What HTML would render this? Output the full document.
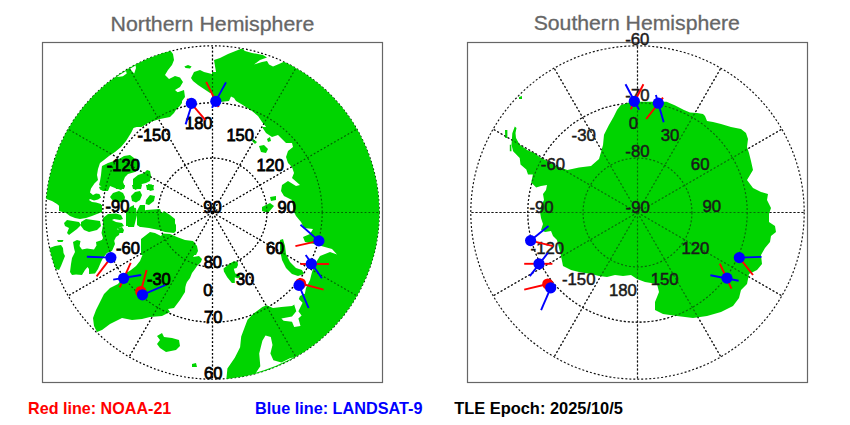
<!DOCTYPE html>
<html><head><meta charset="utf-8"><style>
html,body{margin:0;padding:0;background:#fff;width:850px;height:425px;overflow:hidden}
svg{display:block}
text{font-family:"Liberation Sans",sans-serif}
</style></head><body>
<svg width="850" height="425" viewBox="0 0 850 425">
<defs>
<clipPath id="cn"><circle cx="212.5" cy="212.5" r="166.9"/></clipPath>
<clipPath id="cnw"><circle cx="212.5" cy="212.5" r="166.0"/></clipPath>
<clipPath id="cs"><circle cx="637.5" cy="212.5" r="166.9"/></clipPath>
</defs>
<text x="110.59" y="30.9" font-size="21" fill="#666" stroke="#666" stroke-width="0.3" textLength="203.69" lengthAdjust="spacingAndGlyphs">Northern Hemisphere</text>
<text x="533.69" y="29.8" font-size="21" fill="#666" stroke="#666" stroke-width="0.3" textLength="206.19" lengthAdjust="spacingAndGlyphs">Southern Hemisphere</text>
<circle cx="212.5" cy="212.5" r="166.7" stroke="#000" stroke-width="1.2" stroke-dasharray="1.8 2.1" fill="none"/>
<circle cx="212.5" cy="212.5" r="109.70" stroke="#000" stroke-width="1.2" stroke-dasharray="1.8 2.1" fill="none"/>
<circle cx="212.5" cy="212.5" r="54.43" stroke="#000" stroke-width="1.2" stroke-dasharray="1.8 2.1" fill="none"/>
<line x1="212.50" y1="212.50" x2="212.50" y2="379.20" stroke="#000" stroke-width="1.2" stroke-dasharray="1.8 2.1" fill="none"/>
<line x1="212.50" y1="212.50" x2="295.85" y2="356.87" stroke="#000" stroke-width="1.2" stroke-dasharray="1.8 2.1" fill="none"/>
<line x1="212.50" y1="212.50" x2="356.87" y2="295.85" stroke="#000" stroke-width="1.2" stroke-dasharray="1.8 2.1" fill="none"/>
<line x1="212.50" y1="212.50" x2="379.20" y2="212.50" stroke="#000" stroke-width="1.2" stroke-dasharray="1.8 2.1" fill="none"/>
<line x1="212.50" y1="212.50" x2="356.87" y2="129.15" stroke="#000" stroke-width="1.2" stroke-dasharray="1.8 2.1" fill="none"/>
<line x1="212.50" y1="212.50" x2="295.85" y2="68.13" stroke="#000" stroke-width="1.2" stroke-dasharray="1.8 2.1" fill="none"/>
<line x1="212.50" y1="212.50" x2="212.50" y2="45.80" stroke="#000" stroke-width="1.2" stroke-dasharray="1.8 2.1" fill="none"/>
<line x1="212.50" y1="212.50" x2="129.15" y2="68.13" stroke="#000" stroke-width="1.2" stroke-dasharray="1.8 2.1" fill="none"/>
<line x1="212.50" y1="212.50" x2="68.13" y2="129.15" stroke="#000" stroke-width="1.2" stroke-dasharray="1.8 2.1" fill="none"/>
<line x1="212.50" y1="212.50" x2="45.80" y2="212.50" stroke="#000" stroke-width="1.2" stroke-dasharray="1.8 2.1" fill="none"/>
<line x1="212.50" y1="212.50" x2="68.13" y2="295.85" stroke="#000" stroke-width="1.2" stroke-dasharray="1.8 2.1" fill="none"/>
<line x1="212.50" y1="212.50" x2="129.15" y2="356.87" stroke="#000" stroke-width="1.2" stroke-dasharray="1.8 2.1" fill="none"/>
<g clip-path="url(#cn)" fill="#00d400">
<clipPath id="k0"><rect x="42" y="42" width="170" height="85"/></clipPath>
<clipPath id="k1"><rect x="212" y="42" width="170" height="85"/></clipPath>
<clipPath id="k2"><rect x="42" y="127" width="170" height="85"/></clipPath>
<clipPath id="k10"><rect x="212" y="127" width="170" height="85"/></clipPath>
<clipPath id="k11"><rect x="212" y="212" width="170" height="85"/></clipPath>
<g clip-path="url(#k0)"><polygon points="42.0,42.0 168.0,42.0 170.0,50.0 173.0,54.0 174.0,60.0 172.0,65.0 168.0,70.0 165.0,75.0 169.0,79.0 175.0,76.0 180.0,77.6 183.0,82.0 180.0,87.0 175.0,90.0 179.0,93.6 182.0,98.0 182.0,103.0 179.0,107.0 173.0,111.0 166.0,113.0 160.0,117.0 154.0,120.0 148.0,123.0 140.0,128.0 42.0,128.0"/><polygon points="184.4,66.4 188.0,65.0 191.6,66.4 190.0,68.4 185.6,68.0"/><polygon points="194.0,72.0 200.0,70.0 204.0,72.0 212.0,74.0 214.0,74.0 214.0,94.0 210.0,93.0 204.0,89.0 198.0,85.0 193.0,81.0 191.0,78.0"/></g>
<g clip-path="url(#k1)"><polygon points="211.0,72.0 216.0,72.0 214.0,60.0 220.0,58.0 228.0,54.0 238.0,50.0 242.0,48.6 245.0,51.0 252.0,53.0 263.0,55.0 267.0,57.6 260.0,60.0 254.0,64.4 262.0,62.0 267.0,61.0 269.0,64.4 273.0,66.4 279.0,64.0 284.4,61.6 382.0,40.0 384.0,128.0 267.0,128.0 262.0,122.0 258.0,116.0 252.0,111.0 242.0,104.4 236.0,101.0 234.0,98.0 231.0,96.4 229.0,101.0 220.0,102.0 211.0,103.0"/></g>
<g clip-path="url(#k2)"><polygon points="40.0,125.0 135.0,125.0 131.0,133.0 126.0,141.0 121.0,147.0 115.0,152.0 109.0,156.0 104.0,160.0 100.0,163.0 98.0,169.0 97.0,175.0 98.0,180.0 94.4,183.4 91.0,188.4 90.0,192.4 93.0,195.0 96.0,193.4 99.4,194.0 101.0,197.4 98.0,199.4 94.0,200.4 90.0,199.0 89.0,200.0 92.0,202.0 96.0,202.4 101.0,204.0 102.0,208.0 99.0,210.0 96.4,213.0 66.0,213.0 62.4,210.0 60.4,207.0 57.0,204.0 52.0,201.0 46.4,199.0 40.0,199.0"/></g>
<polygon points="102.0,166.0 108.0,163.0 114.0,161.0 119.0,159.0 124.0,156.0 130.0,155.0 134.0,158.0 138.0,162.0 139.0,169.0 135.0,172.0 128.0,174.0 125.0,177.0 123.0,182.0 125.0,187.0 121.0,190.0 115.0,188.0 110.0,186.0 104.0,188.0 99.0,185.0 100.0,181.0 101.0,175.0 101.5,170.0"/><polygon points="133.0,179.0 138.0,175.0 144.0,173.0 147.0,170.0 150.0,171.0 151.0,176.0 150.0,181.0 146.0,183.0 142.0,184.0 140.0,188.0 135.0,190.0 133.0,186.0"/><polygon points="148.0,184.0 152.0,184.5 154.0,190.0 150.0,191.0 147.5,188.0"/>
<polygon points="110.0,197.0 113.0,193.0 119.0,191.0 123.0,193.0 125.0,197.0 124.0,202.0 118.0,202.5 113.0,201.0"/><polygon points="99.0,187.0 105.0,185.0 110.0,186.0 108.0,191.0 103.0,191.0 100.0,189.5"/><polygon points="115.0,185.0 125.0,185.0 124.0,189.0 116.0,189.0"/><polygon points="131.0,196.0 135.0,192.0 140.0,191.0 142.0,195.0 140.0,200.0 136.0,202.5 132.0,201.0"/><polygon points="132.0,185.0 142.0,185.0 141.0,189.0 133.0,189.0"/><polygon points="146.0,200.0 150.0,195.0 155.0,196.0 154.0,201.0 149.0,205.0 145.5,204.0"/><polygon points="127.0,213.0 130.0,207.0 136.0,208.0 137.0,215.0 134.0,227.0 128.0,227.0"/><polygon points="138.0,214.0 146.0,210.0 160.0,209.0 162.0,214.0 159.0,227.0 140.0,227.0"/><polygon points="162.0,213.0 164.0,211.0 170.0,215.0 175.0,219.0 175.0,227.0 162.0,227.0"/><polygon points="146.0,185.0 154.0,185.0 153.0,190.0 147.0,190.0"/>
<polygon points="59.0,205.0 102.0,205.0 102.0,212.0 97.0,214.0 92.0,216.0 86.0,218.0 80.0,219.0 75.0,218.0 70.0,216.0 66.0,213.0 59.0,211.0"/><polygon points="64.0,223.0 67.0,220.0 73.0,221.0 79.0,222.0 81.0,225.0 77.0,229.0 73.0,232.0 69.0,235.0 67.0,233.0 69.0,228.0 65.0,226.0"/><polygon points="81.0,222.0 86.0,219.0 93.0,220.0 100.0,221.0 101.0,226.0 97.0,230.0 89.0,232.0 84.0,230.0 81.0,226.0"/><polygon points="103.0,218.0 108.0,214.0 116.0,213.5 121.0,215.0 123.0,219.0 120.0,220.0 114.0,219.0 112.0,220.0 116.0,222.0 122.0,223.0 124.0,226.0 121.0,227.0 117.0,229.0 120.0,231.0 119.0,235.0 116.0,237.0 114.0,241.0 112.0,247.0 98.0,247.0 103.0,238.0 101.5,233.0 103.0,225.0"/><polygon points="118.0,228.0 122.0,227.0 124.0,230.0 123.0,233.0 119.0,233.0"/><polygon points="126.0,213.0 130.0,207.0 134.0,205.0 134.0,227.0 130.0,227.0 128.0,221.0"/><polygon points="137.0,211.0 140.0,205.0 145.0,205.0 145.0,225.0 140.0,227.0 137.0,225.0"/>
<polygon points="44.0,246.0 49.5,248.0 55.0,246.0 61.0,245.0 63.0,248.0 63.5,253.0 65.0,256.0 63.0,261.0 61.0,266.0 59.0,270.0 56.0,269.0 44.0,270.0"/><polygon points="73.0,242.0 77.0,240.0 80.5,241.0 79.5,246.0 82.0,249.5 87.0,248.5 94.0,249.5 96.5,245.5 96.0,242.0 102.0,240.0 114.0,240.0 115.0,244.0 112.0,251.0 107.0,253.0 103.0,258.0 101.0,262.0 98.0,269.0 95.0,273.5 89.0,274.0 89.0,269.0 87.5,267.0 85.0,270.0 82.0,275.0 76.0,274.5 72.0,275.0 70.0,272.0 71.0,264.0 72.0,258.0 75.0,252.0 74.0,248.0"/><polygon points="57.0,240.0 63.5,240.0 62.5,242.0 58.0,242.0"/>
<polygon points="126.0,212.0 134.0,212.0 133.0,218.0 132.0,226.0 126.0,226.0"/><polygon points="137.0,214.0 142.0,212.0 160.0,212.0 167.0,215.0 173.0,220.0 176.0,225.0 176.0,231.0 174.0,233.0 165.0,232.0 159.0,230.0 149.0,228.0 141.0,227.0 137.0,224.0 137.0,218.0"/><polygon points="141.0,239.0 150.0,232.0 155.0,233.0 161.0,236.0 163.0,233.5 170.0,234.0 177.0,237.0 185.0,240.0 193.0,241.0 197.0,246.0 198.0,251.0 196.0,255.0 141.0,255.0"/>
<polygon points="145.0,250.0 197.0,250.0 195.0,254.0 193.0,257.0 199.0,256.0 202.0,259.0 201.0,262.0 197.0,266.0 195.0,269.0 192.0,273.0 190.0,278.0 187.0,282.0 185.0,287.0 184.0,293.0 126.0,293.0 126.0,273.0 131.0,270.0 136.0,266.0 140.0,261.0 142.0,256.0"/>
<polygon points="127.0,272.0 118.0,284.0 110.0,288.0 104.0,294.0 100.0,302.0 96.0,310.0 93.0,318.0 94.0,326.0 97.0,332.0 102.0,330.0 110.0,324.0 122.0,318.0 132.0,320.0 142.0,319.0 150.0,317.0 162.0,316.0 170.0,312.0 168.0,309.0 174.0,308.0 180.0,300.0 185.0,292.0 186.0,278.0 162.0,272.0"/><polygon points="157.0,336.0 162.0,333.0 164.0,337.0 172.0,338.0 179.0,340.0 180.0,346.0 176.0,350.0 166.0,352.0 160.0,348.0 157.0,344.0 160.0,340.0"/><polygon points="192.0,364.0 196.0,363.0 197.0,367.0 192.0,367.0"/>
<g clip-path="url(#k10)"><polygon points="260.0,125.0 262.0,127.0 266.0,133.0 272.0,137.0 278.0,135.0 282.0,139.0 286.0,143.0 292.0,143.0 293.0,147.0 288.0,151.0 286.0,157.0 288.0,163.0 292.0,167.0 294.0,173.0 292.0,178.0 300.0,185.0 296.0,186.0 288.0,181.0 282.0,185.0 281.0,191.0 284.0,196.0 292.0,200.0 294.0,213.0 384.0,213.0 384.0,125.0"/><polygon points="253.0,139.0 257.0,142.0 255.0,144.0 252.0,141.0"/><polygon points="259.0,146.0 264.0,145.0 268.0,149.0 266.0,153.0 261.0,152.0"/><polygon points="267.0,139.0 270.0,137.0 271.0,141.0 268.0,142.0"/><polygon points="270.0,197.0 276.0,196.0 276.0,200.0 271.0,201.0"/><polygon points="262.0,207.0 270.0,203.0 274.0,206.0 268.0,213.0 262.0,211.0"/></g>
<g clip-path="url(#k11)"><polygon points="293.0,210.0 384.0,210.0 384.0,298.0 304.0,298.0 306.0,288.0 310.0,280.0 312.0,272.0 315.0,264.0 320.0,256.0 330.0,252.0 337.0,254.4 332.0,249.0 314.0,244.0 305.0,242.0 303.0,237.0 310.0,234.0 313.0,229.0 304.0,228.0 301.0,222.0 296.0,216.0"/><polygon points="280.0,240.0 283.0,239.0 285.0,246.0 286.0,254.0 290.0,262.0 296.0,268.0 302.0,270.0 304.0,274.0 298.0,276.0 292.0,274.0 286.0,268.0 282.0,260.0 280.0,250.0"/></g>
<polygon points="226.4,390.0 226.4,379.0 227.4,368.4 234.8,357.8 240.1,347.2 241.2,336.6 244.4,328.1 247.5,319.7 253.9,313.3 262.4,307.0 266.6,305.3 273.0,308.0 281.4,307.0 292.0,305.9 297.3,302.7 300.0,296.0 304.0,294.0 390.0,294.0 390.0,390.0"/>
<polygon points="223.5,268.4 229.1,264.1 233.8,261.3 237.6,261.8 238.0,265.0 236.6,267.9 233.8,268.8 235.2,273.5 239.5,274.5 240.4,277.3 237.6,278.2 234.8,277.3 234.8,282.9 231.9,282.9 227.2,277.3 223.9,271.6"/>
<polygon points="184.0,90.0 185.0,97.0 179.0,105.0 174.0,113.0 170.0,117.0 160.0,119.0 150.0,122.0 140.0,126.0 130.0,129.0 125.0,120.0 150.0,105.0 170.0,95.0"/>
<g clip-path="url(#cnw)"><polygon fill="#fff" points="265.5,335.5 270.8,337.0 272.5,345.1 270.4,353.6 273.4,360.3 281.4,362.5 289.9,358.2 296.3,356.7 304.7,353.6 309.0,379.0 251.8,379.0 260.3,366.3 259.2,353.6 262.4,340.8"/><polygon fill="#fff" points="296.3,296.4 302.6,302.7 298.4,311.2 301.6,315.4 298.4,318.6 300.5,326.0 294.2,327.1 292.0,321.8 283.6,320.7 281.4,318.6 292.0,316.5 296.3,311.2 294.2,304.8"/><polygon fill="#fff" points="110.0,70.0 115.4,77.3 122.9,76.3 126.7,73.5 125.7,69.8 129.5,67.9 132.3,71.6 134.2,73.5 136.0,67.9 135.1,62.0 125.0,60.0"/></g>

</g>
<circle cx="637.5" cy="212.5" r="166.7" stroke="#111" stroke-width="1.15" stroke-dasharray="2 2" fill="none"/>
<circle cx="637.5" cy="212.5" r="109.70" stroke="#111" stroke-width="1.15" stroke-dasharray="2 2" fill="none"/>
<circle cx="637.5" cy="212.5" r="54.43" stroke="#111" stroke-width="1.15" stroke-dasharray="2 2" fill="none"/>
<line x1="637.50" y1="212.50" x2="637.50" y2="45.80" stroke="#111" stroke-width="1.15" stroke-dasharray="2 2" fill="none"/>
<line x1="637.50" y1="212.50" x2="720.85" y2="68.13" stroke="#111" stroke-width="1.15" stroke-dasharray="2 2" fill="none"/>
<line x1="637.50" y1="212.50" x2="781.87" y2="129.15" stroke="#111" stroke-width="1.15" stroke-dasharray="2 2" fill="none"/>
<line x1="637.50" y1="212.50" x2="804.20" y2="212.50" stroke="#111" stroke-width="1.15" stroke-dasharray="2 2" fill="none"/>
<line x1="637.50" y1="212.50" x2="781.87" y2="295.85" stroke="#111" stroke-width="1.15" stroke-dasharray="2 2" fill="none"/>
<line x1="637.50" y1="212.50" x2="720.85" y2="356.87" stroke="#111" stroke-width="1.15" stroke-dasharray="2 2" fill="none"/>
<line x1="637.50" y1="212.50" x2="637.50" y2="379.20" stroke="#111" stroke-width="1.15" stroke-dasharray="2 2" fill="none"/>
<line x1="637.50" y1="212.50" x2="554.15" y2="356.87" stroke="#111" stroke-width="1.15" stroke-dasharray="2 2" fill="none"/>
<line x1="637.50" y1="212.50" x2="493.13" y2="295.85" stroke="#111" stroke-width="1.15" stroke-dasharray="2 2" fill="none"/>
<line x1="637.50" y1="212.50" x2="470.80" y2="212.50" stroke="#111" stroke-width="1.15" stroke-dasharray="2 2" fill="none"/>
<line x1="637.50" y1="212.50" x2="493.13" y2="129.15" stroke="#111" stroke-width="1.15" stroke-dasharray="2 2" fill="none"/>
<line x1="637.50" y1="212.50" x2="554.15" y2="68.13" stroke="#111" stroke-width="1.15" stroke-dasharray="2 2" fill="none"/>
<g clip-path="url(#cs)" fill="#00d400">

<polygon points="514.8,126.5 516.5,128.0 515.5,133.0 516.0,138.1 519.7,144.7 528.0,150.5 534.5,153.0 539.5,157.0 544.4,159.5 555.9,166.0 567.4,170.0 579.0,167.6 591.0,166.0 599.0,159.0 603.0,145.0 604.0,134.7 608.8,125.3 613.5,117.0 617.0,110.0 620.6,105.3 628.8,102.4 637.0,101.8 646.5,101.8 655.9,101.8 666.5,101.8 674.7,105.3 684.0,110.0 690.0,112.4 697.0,113.0 703.0,114.0 705.0,116.0 707.0,121.0 713.0,122.0 721.0,124.0 731.0,127.0 741.0,129.0 746.0,133.0 748.0,139.0 747.0,147.0 749.0,153.0 751.0,161.0 753.0,170.0 747.0,180.0 753.0,188.0 761.0,192.0 768.0,194.0 767.0,200.0 771.0,208.0 769.0,214.0 769.0,222.0 775.0,226.0 776.0,232.0 771.0,236.0 770.0,242.0 765.0,248.0 761.0,255.0 762.0,264.0 757.0,270.0 749.0,274.0 747.0,284.0 741.0,290.0 739.0,298.0 733.0,306.0 721.0,312.0 707.0,316.0 693.0,318.0 677.0,316.0 663.0,314.0 655.0,310.0 655.0,302.0 659.0,292.0 657.0,284.0 645.0,282.0 637.0,279.0 631.0,275.0 623.0,276.0 615.0,275.0 607.0,277.0 599.0,276.0 591.0,274.0 579.0,272.0 571.0,270.0 563.0,266.0 561.0,256.0 559.0,248.0 557.0,240.0 553.0,236.0 551.0,231.0 545.0,232.0 541.0,230.0 543.0,224.0 541.0,218.0 540.0,212.0 541.0,206.0 544.0,200.0 543.0,194.0 546.0,190.0 547.0,185.0 541.0,186.0 536.2,187.5 531.2,182.6 532.9,174.4 528.0,174.4 526.3,169.4 520.5,164.5 519.7,157.9 513.1,151.3 511.5,144.7 512.3,133.2"/><polygon points="505.0,129.9 507.4,129.9 507.4,138.1 505.2,138.1"/><polygon points="509.8,144.7 511.3,144.7 511.5,151.3 509.8,151.3"/><polygon points="519.0,97.0 522.0,96.0 522.0,99.0 519.0,99.0"/>
</g>
<g opacity="0.55">
<circle cx="212.5" cy="212.5" r="109.70" stroke="#000" stroke-width="1.2" stroke-dasharray="1.8 2.1" fill="none"/>
<circle cx="212.5" cy="212.5" r="54.43" stroke="#000" stroke-width="1.2" stroke-dasharray="1.8 2.1" fill="none"/>
<line x1="212.50" y1="212.50" x2="212.50" y2="379.20" stroke="#000" stroke-width="1.2" stroke-dasharray="1.8 2.1" fill="none"/>
<line x1="212.50" y1="212.50" x2="295.85" y2="356.87" stroke="#000" stroke-width="1.2" stroke-dasharray="1.8 2.1" fill="none"/>
<line x1="212.50" y1="212.50" x2="356.87" y2="295.85" stroke="#000" stroke-width="1.2" stroke-dasharray="1.8 2.1" fill="none"/>
<line x1="212.50" y1="212.50" x2="379.20" y2="212.50" stroke="#000" stroke-width="1.2" stroke-dasharray="1.8 2.1" fill="none"/>
<line x1="212.50" y1="212.50" x2="356.87" y2="129.15" stroke="#000" stroke-width="1.2" stroke-dasharray="1.8 2.1" fill="none"/>
<line x1="212.50" y1="212.50" x2="295.85" y2="68.13" stroke="#000" stroke-width="1.2" stroke-dasharray="1.8 2.1" fill="none"/>
<line x1="212.50" y1="212.50" x2="212.50" y2="45.80" stroke="#000" stroke-width="1.2" stroke-dasharray="1.8 2.1" fill="none"/>
<line x1="212.50" y1="212.50" x2="129.15" y2="68.13" stroke="#000" stroke-width="1.2" stroke-dasharray="1.8 2.1" fill="none"/>
<line x1="212.50" y1="212.50" x2="68.13" y2="129.15" stroke="#000" stroke-width="1.2" stroke-dasharray="1.8 2.1" fill="none"/>
<line x1="212.50" y1="212.50" x2="45.80" y2="212.50" stroke="#000" stroke-width="1.2" stroke-dasharray="1.8 2.1" fill="none"/>
<line x1="212.50" y1="212.50" x2="68.13" y2="295.85" stroke="#000" stroke-width="1.2" stroke-dasharray="1.8 2.1" fill="none"/>
<line x1="212.50" y1="212.50" x2="129.15" y2="356.87" stroke="#000" stroke-width="1.2" stroke-dasharray="1.8 2.1" fill="none"/>
<circle cx="637.5" cy="212.5" r="109.70" stroke="#111" stroke-width="1.15" stroke-dasharray="2 2" fill="none"/>
<circle cx="637.5" cy="212.5" r="54.43" stroke="#111" stroke-width="1.15" stroke-dasharray="2 2" fill="none"/>
<line x1="637.50" y1="212.50" x2="637.50" y2="45.80" stroke="#111" stroke-width="1.15" stroke-dasharray="2 2" fill="none"/>
<line x1="637.50" y1="212.50" x2="720.85" y2="68.13" stroke="#111" stroke-width="1.15" stroke-dasharray="2 2" fill="none"/>
<line x1="637.50" y1="212.50" x2="781.87" y2="129.15" stroke="#111" stroke-width="1.15" stroke-dasharray="2 2" fill="none"/>
<line x1="637.50" y1="212.50" x2="804.20" y2="212.50" stroke="#111" stroke-width="1.15" stroke-dasharray="2 2" fill="none"/>
<line x1="637.50" y1="212.50" x2="781.87" y2="295.85" stroke="#111" stroke-width="1.15" stroke-dasharray="2 2" fill="none"/>
<line x1="637.50" y1="212.50" x2="720.85" y2="356.87" stroke="#111" stroke-width="1.15" stroke-dasharray="2 2" fill="none"/>
<line x1="637.50" y1="212.50" x2="637.50" y2="379.20" stroke="#111" stroke-width="1.15" stroke-dasharray="2 2" fill="none"/>
<line x1="637.50" y1="212.50" x2="554.15" y2="356.87" stroke="#111" stroke-width="1.15" stroke-dasharray="2 2" fill="none"/>
<line x1="637.50" y1="212.50" x2="493.13" y2="295.85" stroke="#111" stroke-width="1.15" stroke-dasharray="2 2" fill="none"/>
<line x1="637.50" y1="212.50" x2="470.80" y2="212.50" stroke="#111" stroke-width="1.15" stroke-dasharray="2 2" fill="none"/>
<line x1="637.50" y1="212.50" x2="493.13" y2="129.15" stroke="#111" stroke-width="1.15" stroke-dasharray="2 2" fill="none"/>
<line x1="637.50" y1="212.50" x2="554.15" y2="68.13" stroke="#111" stroke-width="1.15" stroke-dasharray="2 2" fill="none"/>
</g>
<rect x="42.5" y="42.5" width="340" height="340" fill="none" stroke="#666" stroke-width="1.2"/>
<rect x="467.5" y="42.5" width="340" height="340" fill="none" stroke="#666" stroke-width="1.2"/>
<text x="185.0" y="129.3" font-size="16.5" fill="#000" stroke="#000" stroke-width="0.8">180</text>
<text x="137.45" y="140.55" font-size="16.5" fill="#000" stroke="#000" stroke-width="0.8">-150</text>
<text x="226.4" y="140.55" font-size="16.5" fill="#000" stroke="#000" stroke-width="0.8">150</text>
<text x="106.8" y="170.85" font-size="16.5" fill="#000" stroke="#000" stroke-width="0.8">-120</text>
<text x="256.45" y="170.85" font-size="16.5" fill="#000" stroke="#000" stroke-width="0.8">120</text>
<text x="105.5" y="212.3" font-size="16.5" fill="#000" stroke="#000" stroke-width="0.8">-90</text>
<text x="277.6" y="213.3" font-size="16.5" fill="#000" stroke="#000" stroke-width="0.8">90</text>
<text x="116.05" y="254.1" font-size="16.5" fill="#000" stroke="#000" stroke-width="0.8">-60</text>
<text x="265.95" y="254.1" font-size="16.5" fill="#000" stroke="#000" stroke-width="0.8">60</text>
<text x="146.9" y="285.0" font-size="16.5" fill="#000" stroke="#000" stroke-width="0.8">-30</text>
<text x="235.95" y="285.0" font-size="16.5" fill="#000" stroke="#000" stroke-width="0.8">30</text>
<text x="203.3" y="296.4" font-size="16.5" fill="#000" stroke="#000" stroke-width="0.8">0</text>
<text x="203.3" y="213.3" font-size="16.5" fill="#000" stroke="#000" stroke-width="0.8">90</text>
<text x="203.65" y="268.25" font-size="16.5" fill="#000" stroke="#000" stroke-width="0.8">80</text>
<text x="204.0" y="323.35" font-size="16.5" fill="#000" stroke="#000" stroke-width="0.8">70</text>
<text x="204.05" y="379.0" font-size="16.5" fill="#000" stroke="#000" stroke-width="0.8">60</text>
<text x="628.8" y="129.2" font-size="16.8" fill="#1a1a1a" stroke="#1a1a1a" stroke-width="0.5">0</text>
<text x="660.65" y="140.6" font-size="16.8" fill="#1a1a1a" stroke="#1a1a1a" stroke-width="0.5">30</text>
<text x="571.6" y="140.6" font-size="16.8" fill="#1a1a1a" stroke="#1a1a1a" stroke-width="0.5">-30</text>
<text x="690.85" y="170.25" font-size="16.8" fill="#1a1a1a" stroke="#1a1a1a" stroke-width="0.5">60</text>
<text x="540.8" y="170.25" font-size="16.8" fill="#1a1a1a" stroke="#1a1a1a" stroke-width="0.5">-60</text>
<text x="702.4" y="212.4" font-size="16.8" fill="#1a1a1a" stroke="#1a1a1a" stroke-width="0.5">90</text>
<text x="529.4" y="212.65" font-size="16.8" fill="#1a1a1a" stroke="#1a1a1a" stroke-width="0.5">-90</text>
<text x="681.4" y="254.35" font-size="16.8" fill="#1a1a1a" stroke="#1a1a1a" stroke-width="0.5">120</text>
<text x="530.6" y="254.35" font-size="16.8" fill="#1a1a1a" stroke="#1a1a1a" stroke-width="0.5">-120</text>
<text x="650.7" y="284.6" font-size="16.8" fill="#1a1a1a" stroke="#1a1a1a" stroke-width="0.5">150</text>
<text x="561.9" y="284.6" font-size="16.8" fill="#1a1a1a" stroke="#1a1a1a" stroke-width="0.5">-150</text>
<text x="608.9" y="295.75" font-size="16.8" fill="#1a1a1a" stroke="#1a1a1a" stroke-width="0.5">180</text>
<text x="625.2" y="45.4" font-size="16.8" fill="#1a1a1a" stroke="#1a1a1a" stroke-width="0.5">-60</text>
<text x="625.35" y="101.05" font-size="16.8" fill="#1a1a1a" stroke="#1a1a1a" stroke-width="0.5">-70</text>
<text x="625.35" y="156.7" font-size="16.8" fill="#1a1a1a" stroke="#1a1a1a" stroke-width="0.5">-80</text>
<text x="625.55" y="213.15" font-size="16.8" fill="#1a1a1a" stroke="#1a1a1a" stroke-width="0.5">-90</text>
<line x1="187.3" y1="98.8" x2="205.4" y2="120.2" stroke="#f00" stroke-width="1.9"/>
<line x1="193.5" y1="99" x2="185.6" y2="124.4" stroke="#00f" stroke-width="1.9"/>
<circle cx="191.4" cy="103.4" r="5.6" fill="#00f"/>
<line x1="206.2" y1="81.9" x2="218.6" y2="107" stroke="#f00" stroke-width="1.9"/>
<line x1="226" y1="82.4" x2="212" y2="107.9" stroke="#00f" stroke-width="1.9"/>
<circle cx="215.8" cy="101.3" r="5.6" fill="#00f"/>
<line x1="295.4" y1="246.1" x2="318.9" y2="240.9" stroke="#f00" stroke-width="1.9"/>
<line x1="300.5" y1="224.7" x2="318.9" y2="240.9" stroke="#00f" stroke-width="1.9"/>
<circle cx="318.9" cy="240.9" r="5.6" fill="#00f"/>
<line x1="300.3" y1="264" x2="329" y2="264" stroke="#f00" stroke-width="1.9"/>
<line x1="305.7" y1="255" x2="321.9" y2="278.3" stroke="#00f" stroke-width="1.9"/>
<circle cx="311.3" cy="263.8" r="5.6" fill="#00f"/>
<line x1="300.5" y1="283.5" x2="323.6" y2="289.7" stroke="#f00" stroke-width="1.9"/>
<line x1="299" y1="285.4" x2="308.6" y2="308" stroke="#00f" stroke-width="1.9"/>
<circle cx="300.5" cy="283.5" r="5.6" fill="#f00"/>
<circle cx="299" cy="285.4" r="5.6" fill="#00f"/>
<line x1="110.9" y1="257.6" x2="96.6" y2="276.4" stroke="#f00" stroke-width="1.9"/>
<line x1="86.9" y1="256.7" x2="110.9" y2="257.6" stroke="#00f" stroke-width="1.9"/>
<circle cx="110.9" cy="257.6" r="5.6" fill="#00f"/>
<line x1="130.7" y1="262.8" x2="119.7" y2="287.4" stroke="#f00" stroke-width="1.9"/>
<line x1="113.2" y1="279.6" x2="141.1" y2="275" stroke="#00f" stroke-width="1.9"/>
<circle cx="123.6" cy="278.3" r="5.6" fill="#00f"/>
<line x1="146.6" y1="269.9" x2="140.8" y2="291.5" stroke="#f00" stroke-width="1.9"/>
<line x1="142.5" y1="294.8" x2="165.4" y2="285" stroke="#00f" stroke-width="1.9"/>
<circle cx="140.8" cy="291.5" r="5.6" fill="#f00"/>
<circle cx="142.5" cy="294.8" r="5.6" fill="#00f"/>
<line x1="643.4" y1="84.3" x2="630.7" y2="109.3" stroke="#f00" stroke-width="1.9"/>
<line x1="625.5" y1="84.3" x2="639.1" y2="109.7" stroke="#00f" stroke-width="1.9"/>
<circle cx="634.3" cy="101.3" r="5.6" fill="#00f"/>
<line x1="663" y1="97.6" x2="646.2" y2="119" stroke="#f00" stroke-width="1.9"/>
<line x1="655.9" y1="95" x2="663.7" y2="122.2" stroke="#00f" stroke-width="1.9"/>
<circle cx="658.3" cy="103.2" r="5.6" fill="#00f"/>
<line x1="530.6" y1="240.6" x2="553.2" y2="246.1" stroke="#f00" stroke-width="1.9"/>
<line x1="530.6" y1="240.6" x2="548.5" y2="226.1" stroke="#00f" stroke-width="1.9"/>
<circle cx="530.6" cy="240.6" r="5.6" fill="#00f"/>
<line x1="524.2" y1="263.8" x2="552.4" y2="263.8" stroke="#f00" stroke-width="1.9"/>
<line x1="529.8" y1="276.2" x2="547.9" y2="252.9" stroke="#00f" stroke-width="1.9"/>
<circle cx="539" cy="263.8" r="5.6" fill="#00f"/>
<line x1="547.8" y1="284" x2="524.2" y2="289.6" stroke="#f00" stroke-width="1.9"/>
<line x1="550.7" y1="287.8" x2="541.1" y2="310.1" stroke="#00f" stroke-width="1.9"/>
<circle cx="547.8" cy="284" r="5.6" fill="#f00"/>
<circle cx="550.7" cy="287.8" r="5.6" fill="#00f"/>
<line x1="739.3" y1="257.6" x2="753" y2="275" stroke="#f00" stroke-width="1.9"/>
<line x1="739.3" y1="257.6" x2="761.5" y2="256.9" stroke="#00f" stroke-width="1.9"/>
<circle cx="739.3" cy="257.6" r="5.6" fill="#00f"/>
<line x1="719.8" y1="263.7" x2="731.5" y2="288.7" stroke="#f00" stroke-width="1.9"/>
<line x1="710.4" y1="275.3" x2="738.6" y2="280.7" stroke="#00f" stroke-width="1.9"/>
<circle cx="726.9" cy="278.1" r="5.6" fill="#00f"/>
<text x="28.1" y="414.4" font-size="16.2" font-weight="bold" fill="#f00" textLength="143.22" lengthAdjust="spacingAndGlyphs">Red line: NOAA-21</text>
<text x="255.0" y="414.4" font-size="16.2" font-weight="bold" fill="#00f" textLength="167.49" lengthAdjust="spacingAndGlyphs">Blue line: LANDSAT-9</text>
<text x="454.2" y="413.8" font-size="16.2" font-weight="bold" fill="#000" textLength="168.74" lengthAdjust="spacingAndGlyphs">TLE Epoch: 2025/10/5</text>
</svg>
</body></html>
